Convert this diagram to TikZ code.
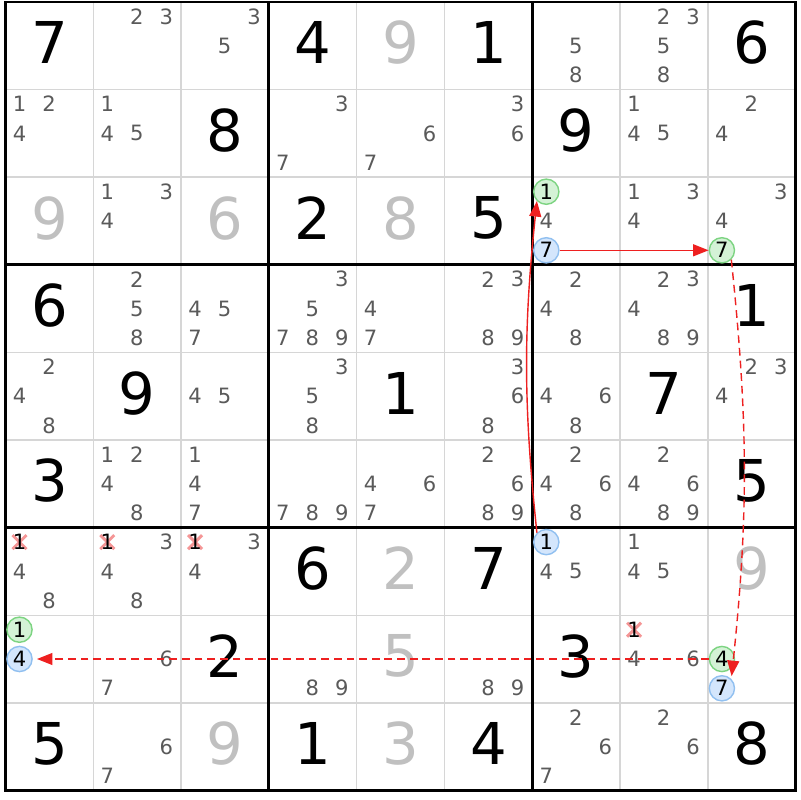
\documentclass[tikz,border=0pt]{standalone}
\usepackage{fontspec}
\setmainfont{DejaVu Sans}
\usetikzlibrary{arrows.meta}
\definecolor{candgray}{RGB}{90,90,90}
\definecolor{solvedgray}{RGB}{192,192,192}
\definecolor{gridgray}{RGB}{214,214,214}
\definecolor{ongreen}{RGB}{212,242,214}
\definecolor{ongreenline}{RGB}{125,212,130}
\definecolor{offblue}{RGB}{212,230,252}
\definecolor{offblueline}{RGB}{145,192,240}
\definecolor{linkred}{RGB}{238,32,32}
\definecolor{strikered}{RGB}{245,150,150}
\newcommand\givenfont{\fontsize{41}{41}\selectfont}
\newcommand\candfont{\fontsize{15}{15}\selectfont}
\tikzset{
  given/.style={font=\givenfont, inner sep=0pt, yshift=2pt},
  solved/.style={given, text=solvedgray},
  cand/.style={font=\candfont, inner sep=0pt, text=candgray},
  oncand/.style={cand, text=black, circle, minimum size=6.3mm, fill=ongreen, draw=ongreenline, line width=1pt},
  offcand/.style={oncand, fill=offblue, draw=offblueline},
  strike/.style={strikered, line width=2.1pt},
  gridline/.style={gridgray, line width=1pt},
  boxline/.style={black, line width=2.1pt},
  link/.style={linkred, line width=1pt, -{Triangle[length=11pt,width=8.5pt]}},
  weaklink/.style={link, dash pattern=on 5.5pt off 3.5pt}
}
\begin{document}
\begin{tikzpicture}[x=0.025cm, y=-0.025cm]
      \path[use as bounding box, fill=white] (0,0) rectangle (800,800);
      % cell centres and candidate slots
      \foreach \r in {1,...,9} {
        \foreach \c in {1,...,9} {
          \coordinate (m\r\c) at ({5.5+87.8*(\c-0.5)},{2+87.6*(\r-0.5)});
          \foreach \d in {1,...,9}
            \coordinate (s\r\c\d) at ({5.5+87.8*(\c-1)+14+29.5*mod(\d-1,3)},{2+87.6*(\r-1)+14.5+29.3*int((\d-1)/3)});
        }
      }
      % grid
      \foreach \i in {1,2,4,5,7,8} {
        \draw[gridline] ({5.5+87.8*\i},2) -- ({5.5+87.8*\i},790.4);
        \draw[gridline] (5.5,{2+87.6*\i}) -- (795.7,{2+87.6*\i});
      }
      \foreach \i in {3,6} {
        \draw[boxline] ({5.5+87.8*\i},2) -- ({5.5+87.8*\i},790.4);
        \draw[boxline] (5.5,{2+87.6*\i}) -- (795.7,{2+87.6*\i});
      }
      \draw[boxline] (5.5,2) rectangle (795.7,790.4);
      % givens and solved cells
      \foreach \r/\c/\v in {1/1/7, 1/4/4, 1/6/1, 1/9/6, 2/3/8, 2/7/9, 3/4/2, 3/6/5,
          4/1/6, 4/9/1, 5/2/9, 5/5/1, 5/8/7, 6/1/3, 6/9/5, 7/4/6, 7/6/7,
          8/3/2, 8/7/3, 9/1/5, 9/4/1, 9/6/4, 9/9/8}
        \node[given] (g\r\c) at (m\r\c) {\v};
      \foreach \r/\c/\v in {1/5/9, 3/1/9, 3/3/6, 3/5/8, 7/5/2, 7/9/9, 8/5/5, 9/3/9, 9/5/3}
        \node[solved] (g\r\c) at (m\r\c) {\v};
      % candidates
      \foreach \r/\c/\ds in {1/2/{2,3}, 1/3/{3,5}, 1/7/{5,8}, 1/8/{2,3,5,8},
          2/1/{1,2,4}, 2/2/{1,4,5}, 2/4/{3,7}, 2/5/{6,7}, 2/6/{3,6}, 2/8/{1,4,5}, 2/9/{2,4},
          3/2/{1,3,4}, 3/7/{4}, 3/8/{1,3,4}, 3/9/{3,4},
          4/2/{2,5,8}, 4/3/{4,5,7}, 4/4/{3,5,7,8,9}, 4/5/{4,7}, 4/6/{2,3,8,9}, 4/7/{2,4,8}, 4/8/{2,3,4,8,9},
          5/1/{2,4,8}, 5/3/{4,5}, 5/4/{3,5,8}, 5/6/{3,6,8}, 5/7/{4,6,8}, 5/9/{2,3,4},
          6/2/{1,2,4,8}, 6/3/{1,4,7}, 6/4/{7,8,9}, 6/5/{4,6,7}, 6/6/{2,6,8,9}, 6/7/{2,4,6,8}, 6/8/{2,4,6,8,9},
          7/1/{4,8}, 7/2/{3,4,8}, 7/3/{3,4}, 7/7/{4,5}, 7/8/{1,4,5},
          8/2/{6,7}, 8/4/{8,9}, 8/6/{8,9}, 8/8/{4,6},
          9/2/{6,7}, 9/7/{2,6,7}, 9/8/{2,6}} {
        \foreach \d in \ds
          \node[cand] (k\r\c\d) at (s\r\c\d) {\d};
      }
      % eliminated candidates
      \foreach \r/\c in {7/1, 7/2, 7/3, 8/8} {
        \draw[strike] (s\r\c1) +(-7,-7) -- +(7,7) +(-7,7) -- +(7,-7);
        \node[cand, text=black] (k\r\c1) at (s\r\c1) {1};
      }
      % chain
      \node[offcand] (p1) at (s771) {1};
      \node[oncand] (q1) at (s371) {1};
      \node[offcand] (p2) at (s377) {7};
      \node[oncand] (q2) at (s397) {7};
      \node[offcand] (p3) at (s897) {7};
      \node[oncand] (q3) at (s894) {4};
      \node[offcand] (p4) at (s814) {4};
      \node[oncand] (q4) at (s811) {1};
      \begin{scope}
        \draw[link] (p1.north west) to[bend left=6] (q1.south west);
        \draw[link] (p2) -- (q2);
        \draw[weaklink, shorten >=2pt] (q2.south east) to[bend left=6] (p3.north east);
        \draw[weaklink, shorten >=3pt] (q3) -- (p4);
      \end{scope}
    \end{tikzpicture}
\end{document}
